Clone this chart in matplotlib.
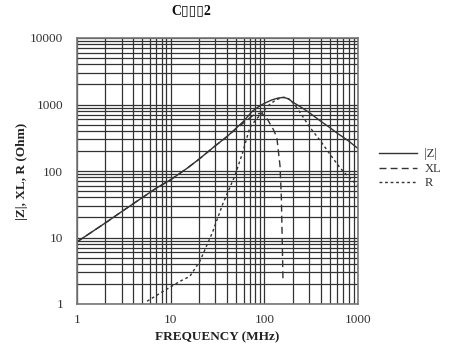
import matplotlib
matplotlib.use("Agg")
import matplotlib.pyplot as plt
from matplotlib.ticker import LogLocator, NullFormatter, FixedLocator, FixedFormatter

# ---- data ----
freq_z = [1, 2, 3, 5, 7, 10, 15, 20, 30, 40, 50, 60, 75, 90, 100, 120, 140, 160, 180, 200, 250, 300, 400, 500, 600, 700, 800, 900, 1000]
z_vals = [8.6, 16.5, 24.5, 40, 55, 74, 110, 150, 240, 330, 440, 560, 800, 960, 1040, 1170, 1250, 1280, 1220, 1090, 900, 760, 560, 450, 370, 320, 280, 245, 218]

freq_xl = [1, 2, 3, 5, 7, 10, 15, 20, 30, 40, 50, 60, 75, 85, 94, 105, 115, 125, 136, 147, 152, 155, 157, 158]
xl_vals = [8.6, 16.5, 24.5, 40, 55, 74, 110, 150, 240, 330, 430, 530, 680, 730, 735, 640, 513, 420, 319, 120, 40, 10, 4, 2.4]

freq_r = [5.6, 8, 12.6, 16, 20.5, 28, 36, 48.5, 58, 70, 82, 94, 110, 130, 150, 165, 185, 210, 250, 307, 400, 500, 641, 800, 1000]
r_vals = [1.1, 1.5, 2.2, 2.6, 4.4, 12, 32, 85, 180, 450, 600, 735, 960, 1150, 1260, 1280, 1200, 1000, 700, 452, 280, 180, 112, 80, 60]

x_ticks = [1, 10, 100, 1000]
x_tick_labels = ["1", "10", "100", "1000"]
y_ticks = [1, 10, 100, 1000, 10000]
y_tick_labels = ["1", "10", "100", "1000", "10000"]

serif = ["Liberation Serif", "DejaVu Serif"]

fig = plt.figure(figsize=(4.62, 3.51), dpi=100)
ax = fig.add_axes([77/462, 1-304/351, (358-77)/462, (304-38)/351])
ax.set_xscale("log")
ax.set_yscale("log")
ax.set_xlim(1, 1000)
ax.set_ylim(1, 10000)

ax.xaxis.set_major_locator(FixedLocator(x_ticks))
ax.xaxis.set_major_formatter(FixedFormatter(x_tick_labels))
ax.yaxis.set_major_locator(FixedLocator(y_ticks))
ax.yaxis.set_major_formatter(FixedFormatter(y_tick_labels))
ax.xaxis.set_minor_locator(LogLocator(base=10, subs=range(2, 10), numticks=20))
ax.yaxis.set_minor_locator(LogLocator(base=10, subs=range(2, 10), numticks=20))
ax.xaxis.set_minor_formatter(NullFormatter())
ax.yaxis.set_minor_formatter(NullFormatter())
ax.tick_params(which="both", length=0, labelsize=9.5)
ax.tick_params(axis="y", pad=10)
ax.tick_params(axis="x", pad=7)
for lab in ax.get_xticklabels() + ax.get_yticklabels():
    lab.set_fontfamily(serif)
    lab.set_color("#333333")

ax.grid(True, which="both", color="#333333", linewidth=0.9)
for s in ax.spines.values():
    s.set_color("#777777")
    s.set_linewidth(1.2)

lc = "#333333"
l1, = ax.plot(freq_z, z_vals, color=lc, linewidth=1.0, linestyle="-", label="|Z|")
l2, = ax.plot(freq_xl, xl_vals, color=lc, linewidth=1.0, linestyle=(0, (5, 3)), label="XL")
l3, = ax.plot(freq_r, r_vals, color=lc, linewidth=1.0, linestyle=(0, (2, 2)), label="R")

leg = fig.legend(handles=[l1, l2, l3], loc="center left", bbox_to_anchor=(368/462, 1-169/351),
                 frameon=False, prop={"family": serif, "size": 9}, handlelength=3.0,
                 labelspacing=0.2, handletextpad=0.6)
for t in leg.get_texts():
    t.set_color("#333333")

ax.set_xlabel("FREQUENCY (MHz)", fontfamily=serif, fontweight="bold", fontsize=9.5, labelpad=4, color="#222222")
ax.set_ylabel("|Z|, XL, R (Ohm)", fontfamily=serif, fontweight="bold", fontsize=9.5, labelpad=0, color="#222222")
ax.yaxis.set_label_coords(-(77 - 28) / (358 - 77), 0.5)

fig.text(191/462, 1-11/351, "C\u25af\u25af\u25af2", fontfamily=serif, fontweight="bold",
         fontsize=10, ha="center", va="center", color="#111111")

fig.savefig("out.png", dpi=100)
